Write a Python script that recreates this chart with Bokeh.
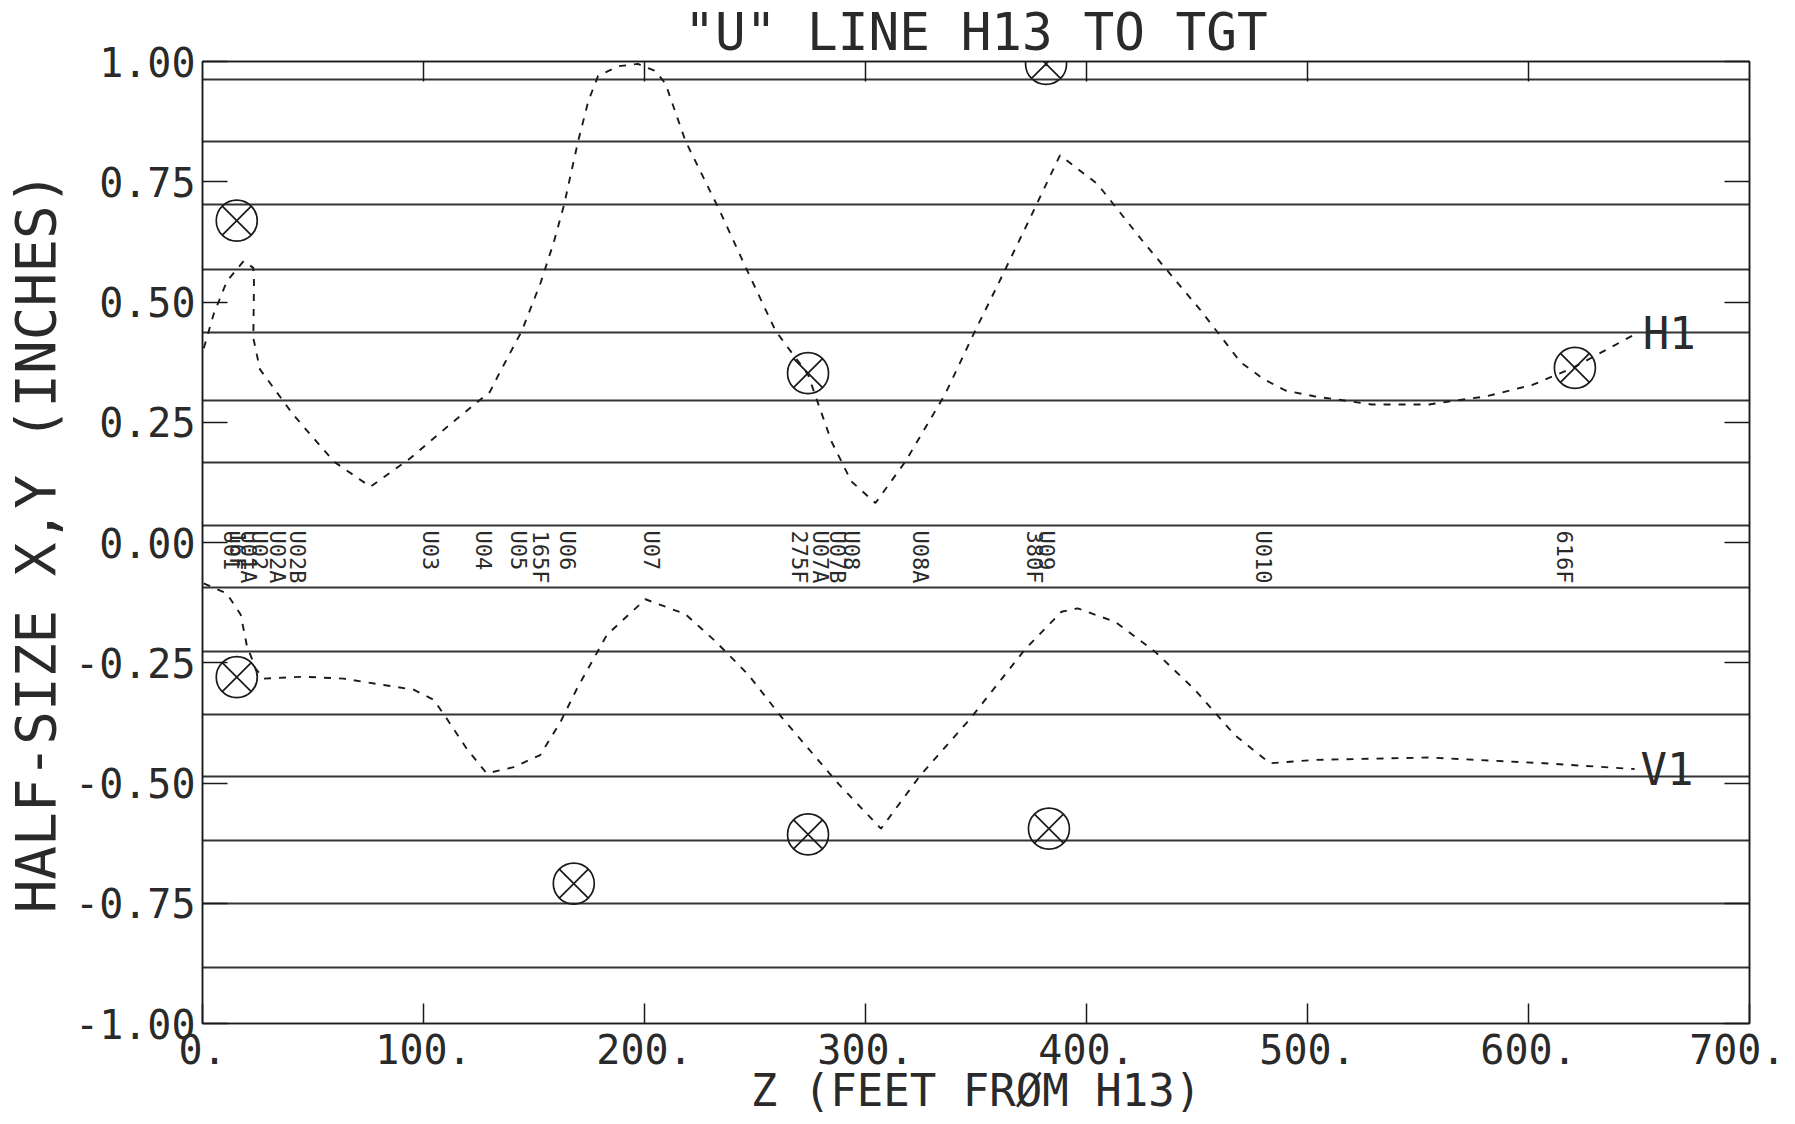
import numpy as np
from bokeh.plotting import figure
from bokeh.models import (LinearAxis, FixedTicker, PrintfTickFormatter, Title,
                          Range1d, CustomJSTickFormatter)
from bokeh.core.properties import value
from bokeh.embed import file_html
from bokeh.resources import INLINE

FONT = "DejaVu Sans Mono"
INK = "#1a1a1a"
TXT = "#2a2a2a"

# ---- text ----
title_text = '"U" LINE H13 TO TGT'
x_label = "Z (FEET FRØM H13)"
y_label = "HALF-SIZE X,Y (INCHES)"

# ---- ticks ----
x_ticks = [0, 100, 200, 300, 400, 500, 600, 700]
x_inner_ticks = [100, 200, 300, 400, 500, 600]
y_ticks = [-1.0, -0.75, -0.5, -0.25, 0.0, 0.25, 0.5, 0.75, 1.0]

# ruled lines of the plotter paper (data y positions)
paper_rules = [0.963, 0.834, 0.703, 0.568, 0.437, 0.295, 0.166, 0.035,
               -0.094, -0.227, -0.358, -0.487, -0.620, -0.750, -0.884]

# ---- series H1 ----
h1_z = [0.6, 5, 11, 18.6, 23, 23.3, 23, 26, 41, 59.5, 76, 94, 113.7, 130, 134,
        144.5, 153, 159, 163.5, 170, 174.6, 179, 188, 197, 205, 209.5, 218.5,
        233.5, 245.9, 259.3, 274, 284.6, 293.6, 304.5, 318, 336, 349.6, 360,
        374, 388, 405, 425.7, 451.6, 469.7, 480, 490, 503, 529, 555, 581, 602,
        620, 649]
h1_y = [0.404, 0.474, 0.543, 0.585, 0.571, 0.54, 0.425, 0.36, 0.266, 0.168,
        0.116, 0.175, 0.252, 0.313, 0.349, 0.44, 0.54, 0.625, 0.70, 0.835,
        0.918, 0.97, 0.99, 0.995, 0.98, 0.954, 0.835, 0.695, 0.571, 0.44,
        0.349, 0.21, 0.127, 0.082, 0.168, 0.308, 0.44, 0.537, 0.67, 0.805,
        0.745, 0.625, 0.483, 0.375, 0.34, 0.316, 0.304, 0.287, 0.287, 0.304,
        0.328, 0.363, 0.435]

# ---- series V1 ----
v1_z = [0.5, 11, 17.3, 20, 24, 27.7, 45.8, 63.8, 78.8, 95.5, 104.6, 110.5,
        119.6, 128.6, 140.8, 152.8, 162, 169.4, 183, 200.4, 218.5, 232, 247,
        262, 287.8, 307, 325, 348, 372, 388.7, 396, 413, 431, 449, 467, 483,
        503, 555, 607, 648]
v1_y = [-0.085, -0.106, -0.15, -0.213, -0.262, -0.283, -0.279, -0.283, -0.294,
        -0.306, -0.327, -0.366, -0.429, -0.48, -0.467, -0.442, -0.373, -0.304,
        -0.192, -0.118, -0.149, -0.205, -0.275, -0.363, -0.502, -0.595, -0.483,
        -0.363, -0.223, -0.144, -0.137, -0.165, -0.227, -0.306, -0.40, -0.459,
        -0.452, -0.447, -0.459, -0.471]

# ---- circled-X target points ----
mark_z = [15.5, 15.5, 168, 274, 274, 381.7, 383, 621]
mark_y = [0.669, -0.28, -0.709, 0.352, -0.607, 0.995, -0.595, 0.363]

# ---- station labels along Z ----
station_z = [13, 16, 21, 26, 34, 43, 103, 127, 143, 153, 165, 203, 270, 279.6,
             287.4, 293.6, 324.7, 376.5, 381.7, 480, 616.3]
station_name = ["U01", "16F", "U01A", "U02", "U02A", "U02B", "U03", "U04",
                "U05", "165F", "U06", "U07", "275F", "U07A", "U07B", "U08",
                "U08A", "380F", "U09", "U010", "616F"]

p = figure(frame_width=1547, frame_height=962,
           x_range=Range1d(0, 700), y_range=Range1d(-1, 1),
           output_backend="svg", toolbar_location=None, title=None,
           min_border_left=200, min_border_right=36,
           min_border_top=52, min_border_bottom=92)
p.background_fill_color = "white"
p.border_fill_color = "white"
p.outline_line_color = INK
p.outline_line_width = 1.5

# paper rules as grid
p.xgrid.visible = False
p.ygrid.ticker = FixedTicker(ticks=paper_rules)
p.ygrid.grid_line_color = "#111111"
p.ygrid.grid_line_width = 2
p.ygrid.grid_line_alpha = 0.85

blank = CustomJSTickFormatter(code="return '';")


def style_axis(ax, tick_len, label_size):
    ax.major_tick_in = tick_len
    ax.major_tick_out = 0
    ax.minor_tick_in = 0
    ax.minor_tick_out = 0
    ax.axis_line_color = INK
    ax.axis_line_width = 1.5
    ax.major_tick_line_color = INK
    ax.major_tick_line_width = 1.5
    ax.major_label_text_font = FONT
    ax.major_label_text_font_size = label_size
    ax.major_label_text_color = TXT
    ax.axis_label_text_font = FONT
    ax.axis_label_text_font_style = "normal"
    ax.axis_label_text_color = TXT


# left axis
ya = p.yaxis[0]
ya.ticker = FixedTicker(ticks=y_ticks)
ya.formatter = PrintfTickFormatter(format="%.2f")
style_axis(ya, 25, "40px")
ya.major_label_standoff = 7
ya.axis_label = y_label
ya.axis_label_text_font_size = "56px"
ya.axis_label_standoff = 4

# bottom axis
xa = p.xaxis[0]
xa.ticker = FixedTicker(ticks=x_ticks)
xa.formatter = PrintfTickFormatter(format="%d.")
style_axis(xa, 20, "40px")
xa.major_label_standoff = 10
xa.major_label_text_line_height = 0.8
xa.axis_label = x_label
xa.axis_label_text_font_size = "44px"
xa.axis_label_text_line_height = 0.8
xa.axis_label_standoff = -2

# right axis (inner ticks only)
ra = LinearAxis(ticker=FixedTicker(ticks=y_ticks), formatter=blank)
style_axis(ra, 25, "10px")
ra.major_label_standoff = 0
ra.axis_label_standoff = 0
p.add_layout(ra, "right")

# top axis (inner ticks only)
ta = LinearAxis(ticker=FixedTicker(ticks=x_inner_ticks), formatter=blank)
style_axis(ta, 20, "10px")
ta.major_label_standoff = 0
ta.axis_label_standoff = 0
p.add_layout(ta, "above")

p.add_layout(Title(text=title_text, align="center", text_font=FONT,
                   text_font_size="51px", text_font_style="normal",
                   text_color=TXT, standoff=0, text_line_height=0.8),
             "above")

# curves
p.line(h1_z, h1_y, line_dash="7 8", line_width=1.9, line_color=INK)
p.line(v1_z, v1_y, line_dash="7 8", line_width=1.9, line_color=INK)

# circled X markers
p.scatter(mark_z, mark_y, marker="circle_x", size=41, fill_color=None,
          line_color=INK, line_width=1.7)

# end labels
p.text(x=[h1_z[-1]], y=[h1_y[-1]], text=["H1"], x_offset=6,
       text_align="left", text_baseline="middle",
       text_font=value(FONT), text_font_size="44px", text_color=TXT)
p.text(x=[v1_z[-1]], y=[v1_y[-1]], text=["V1"], x_offset=6,
       text_align="left", text_baseline="middle",
       text_font=value(FONT), text_font_size="44px", text_color=TXT)

# station labels (rotated, reading downward from just above Z axis line)
p.text(x=station_z, y=[0.025] * len(station_z), text=station_name,
       angle=-np.pi / 2, text_align="left", text_baseline="middle",
       text_font=value(FONT), text_font_size="22px", text_color=TXT)

open("out.html", "w").write(file_html(p, INLINE))
